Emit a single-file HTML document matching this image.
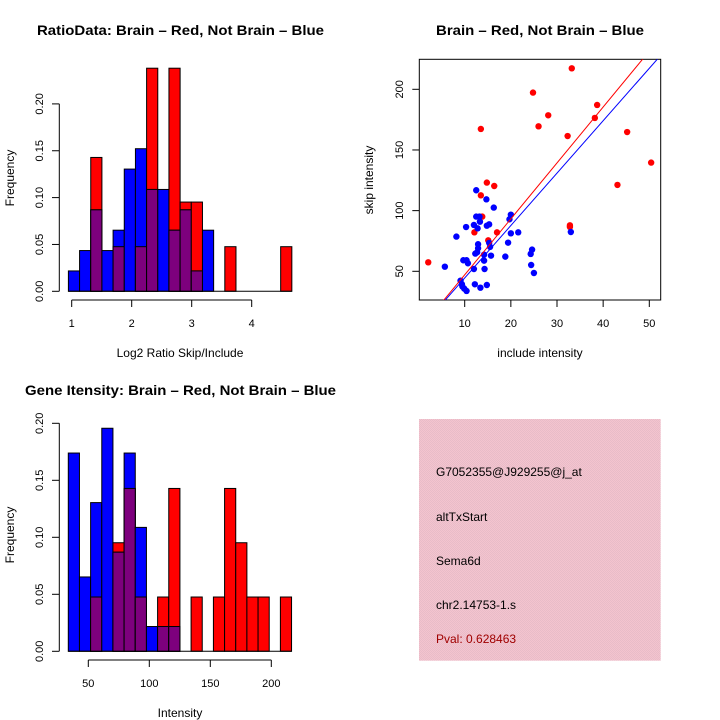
<!DOCTYPE html>
<html><head><meta charset="utf-8"><style>
html,body{margin:0;padding:0;background:#fff}
svg{display:block;font-family:"Liberation Sans",Arial,sans-serif}
</style></head><body>
<svg id="c" width="720" height="720" viewBox="0 0 720 720">
<defs>
<pattern id="pk" width="2" height="2" patternUnits="userSpaceOnUse"><rect width="2" height="2" fill="#f4c4cf"/><rect width="1" height="1" fill="#e8bcc8"/><rect x="1" y="1" width="1" height="1" fill="#e8bcc8"/></pattern>
</defs>
<g id="p1"></g>
<g id="p2"></g>
<g id="p3"></g>
<g id="p4">
<rect x="419" y="419" width="241.7" height="241.7" fill="url(#pk)"/>
<text x="436" y="476" font-size="12">G7052355@J929255@j_at</text>
<text x="436" y="521" font-size="12">altTxStart</text>
<text x="436" y="565" font-size="12">Sema6d</text>
<text x="436" y="609" font-size="12">chr2.14753-1.s</text>
<text x="436" y="643" font-size="12" fill="#a00000">Pval: 0.628463</text>
</g>
</svg>
<script>
// ---- Histogram 1 data (Log2 ratio) ----
const h1BinStart = 0.945;
const h1BinWidth = 0.1862;
const h1Red = [0,0,3,0,1,0,1,5,0,5,2,2,0,0,1,0,0,0,0,1];
const h1Blue = [1,2,4,2,3,6,7,5,5,3,4,1,3,0,0,0,0,0,0,0];
const h1XTicks = [1,2,3,4];
const h1YTicks = [0,0.05,0.10,0.15,0.20];
// ---- Histogram 2 data (Intensity) ----
const h2BinStart = 33.6;
const h2BinWidth = 9.15;
const h2Red = [0,0,1,0,2,3,1,0,1,3,0,1,0,1,3,2,1,1,0,1];
const h2Blue = [8,3,6,9,4,8,5,1,1,1,0,0,0,0,0,0,0,0,0,0];
const h2XTicks = [50,100,150,200];
const h2YTicks = [0,0.05,0.10,0.15,0.20];
// ---- Scatter data ----
const redX = [2.1,13.5,24.8,33.2,28.1,26.0,32.3,38.2,38.7,45.2,50.4,43.1,32.8,14.8,16.4,13.5,13.8,12.1,17.0,15.1,32.8];
const redY = [57.4,167.3,197.3,217.3,178.6,169.5,161.5,176.4,187.1,164.8,139.6,121.2,87.9,123.1,120.3,112.6,95.1,82.1,82.1,75.5,86.5];
const blueX = [5.7,8.2,10.3,12.5,14.7,16.3,12.5,13.2,13.3,12.8,12.0,14.8,15.3,20.0,19.7,20.0,21.6,19.4,15.3,12.9,12.9,15.5,12.7,12.3,15.7,14.2,14.2,14.3,12.0,9.7,10.4,10.7,18.8,24.6,24.3,24.4,25.0,33.0,9.1,9.4,9.9,10.4,12.2,13.4,14.8,9.5];
const blueY = [53.8,78.6,86.5,116.8,109.3,102.5,95.1,95.1,90.9,85.4,88.2,87.6,88.7,96.7,92.9,81.3,82.1,73.6,73.4,72.3,69.0,70.1,65.7,64.6,62.9,63.7,58.8,51.9,51.9,59.1,59.1,56.6,62.1,67.9,64.3,55.2,48.6,82.4,42.3,39.3,35.7,33.8,39.3,36.5,38.7,37.5];
const redFit = [1.0, 4.61];
const blueFit = [1.3, 4.32];
const sXTicks = [10,20,30,40,50];
const sYTicks = [50,100,150,200];

const NS="http://www.w3.org/2000/svg";
function mk(parent,tag,attrs,txt){const e=document.createElementNS(NS,tag);for(const k in attrs)e.setAttribute(k,attrs[k]);if(txt!==undefined)e.textContent=txt;parent.appendChild(e);return e;}

function hist(g,o){
  const xs=v=>o.x0+(v-o.v0)*o.kx, ys=v=>o.base-v*o.ky;
  const nR=o.red.reduce((a,b)=>a+b,0), nB=o.blue.reduce((a,b)=>a+b,0);
  for(let i=0;i<o.red.length;i++){
    const l=xs(o.bs+i*o.bw), r=xs(o.bs+(i+1)*o.bw);
    const fr=o.red[i]/nR, fb=o.blue[i]/nB;
    if(fr>0){const e=mk(g,'rect',{x:l,y:ys(fr),width:r-l,height:o.base-ys(fr),fill:'#ff0000',stroke:'#000','stroke-width':1});
      
      }
    if(fb>0){const e=mk(g,'rect',{x:l,y:ys(fb),width:r-l,height:o.base-ys(fb),fill:'#0000ff',stroke:'#000','stroke-width':1});
      
      }
    const m=Math.min(fr,fb);
    if(m>0){const e=mk(g,'rect',{x:l,y:ys(m),width:r-l,height:o.base-ys(m),fill:'#7d007d',stroke:'#000','stroke-width':1});
      
      }
  }
  const bl=mk(g,'line',{x1:xs(o.bs),x2:xs(o.bs+o.red.length*o.bw),y1:o.base,y2:o.base,stroke:'#000','stroke-width':1});
  
  
  // x axis
  const ax=mk(g,'g',{});
  
  
  mk(ax,'line',{x1:xs(o.xt[0]),x2:xs(o.xt[o.xt.length-1]),y1:o.axY,y2:o.axY,stroke:'#000'});
  o.xt.forEach(t=>{mk(ax,'line',{x1:xs(t),x2:xs(t),y1:o.axY,y2:o.axY+7,stroke:'#000'});
    const tl=mk(ax,'text',{x:xs(t),y:o.axY+27,'font-size':11,'text-anchor':'middle'},String(t));
    
    });
  // y axis
  const ay=mk(g,'g',{});
  
  
  mk(ay,'line',{x1:59.3,x2:59.3,y1:ys(o.yt[0]),y2:ys(o.yt[o.yt.length-1]),stroke:'#000'});
  o.yt.forEach(t=>{mk(ay,'line',{x1:52,x2:59.3,y1:ys(t),y2:ys(t),stroke:'#000'});
    const tl=mk(ay,'text',{x:0,y:0,'font-size':11,'text-anchor':'middle',transform:`translate(43,${ys(t)}) rotate(-90)`},t.toFixed(2));
    
    });
  const yt=mk(g,'text',{x:0,y:0,'font-size':12,'text-anchor':'middle',transform:`translate(14,${o.ylabY}) rotate(-90)`},'Frequency');
  
  
  const xt=mk(g,'text',{x:180,y:o.xlabY,'font-size':12,'text-anchor':'middle'},o.xlab);
  
  
  const tt=mk(g,'text',{x:o.titleX,y:o.titleY,'font-size':14,'font-weight':'bold',textLength:o.titleW,lengthAdjust:'spacingAndGlyphs'},o.title);
  
  
}

hist(document.getElementById('p1'),{x0:71.7,v0:1,kx:60,base:291.3,ky:937,bs:h1BinStart,bw:h1BinWidth,red:h1Red,blue:h1Blue,xt:h1XTicks,yt:h1YTicks,axY:300,ylabY:178,xlabY:357,xlab:'Log2 Ratio Skip/Include',title:'RatioData: Brain – Red, Not Brain – Blue',titleX:37,titleY:35,titleW:287});
hist(document.getElementById('p3'),{x0:88.3,v0:50,kx:1.22,base:651.3,ky:1140,bs:h2BinStart,bw:h2BinWidth,red:h2Red,blue:h2Blue,xt:h2XTicks,yt:h2YTicks,axY:660,ylabY:535,xlabY:717,xlab:'Intensity',title:'Gene Itensity: Brain – Red, Not Brain – Blue',titleX:25,titleY:395,titleW:311});

// scatter
(function(){
  const g=document.getElementById('p2');
  const xs=v=>464.7+(v-10)*4.615, ys=v=>271.3-(v-50)*1.2133;
  const L=419.3,R=660.7,T=59.3,B=300;
  const box=mk(g,'rect',{x:L,y:T,width:R-L,height:B-T,fill:'none',stroke:'#000'});
  
  
  const ax=mk(g,'g',{});
  
  
  sXTicks.forEach(t=>{mk(ax,'line',{x1:xs(t),x2:xs(t),y1:B,y2:B+7,stroke:'#000'});
    const tl=mk(ax,'text',{x:xs(t),y:327,'font-size':11,'text-anchor':'middle'},String(t));
    
    });
  const ay=mk(g,'g',{});
  
  
  sYTicks.forEach(t=>{mk(ay,'line',{x1:L-7,x2:L,y1:ys(t),y2:ys(t),stroke:'#000'});
    const tl=mk(ay,'text',{x:0,y:0,'font-size':11,'text-anchor':'middle',transform:`translate(403,${ys(t)}) rotate(-90)`},String(t));
    
    });
  const cl=mk(g,'clipPath',{id:'sc'});mk(cl,'rect',{x:L,y:T,width:R-L,height:B-T});
  const pts=mk(g,'g',{'clip-path':'url(#sc)'});
  
  
  redX.forEach((x,i)=>{const c=mk(pts,'circle',{cx:xs(x),cy:ys(redY[i]),r:3.2,fill:'#ff0000'});
    
    });
  blueX.forEach((x,i)=>{const c=mk(pts,'circle',{cx:xs(x),cy:ys(blueY[i]),r:3.2,fill:'#0000ff'});
    
    });
  [[redFit,'#ff0000','brain-fit-line'],[blueFit,'#0000ff','not-brain-fit-line']].forEach(([f,col,nm])=>{
    const l=mk(pts,'line',{x1:xs(0),y1:ys(f[0]),x2:xs(60),y2:ys(f[0]+f[1]*60),stroke:col,'stroke-width':1});
    
    });
  const xt=mk(g,'text',{x:540,y:357,'font-size':12,'text-anchor':'middle'},'include intensity');
  
  
  const yt=mk(g,'text',{x:0,y:0,'font-size':12,'text-anchor':'middle',transform:'translate(373,180) rotate(-90)'},'skip intensity');
  
  
  const tt=mk(g,'text',{x:436,y:35,'font-size':14,'font-weight':'bold',textLength:208,lengthAdjust:'spacingAndGlyphs'},'Brain – Red, Not Brain – Blue');
  
  
})();
</script>
</body></html>
